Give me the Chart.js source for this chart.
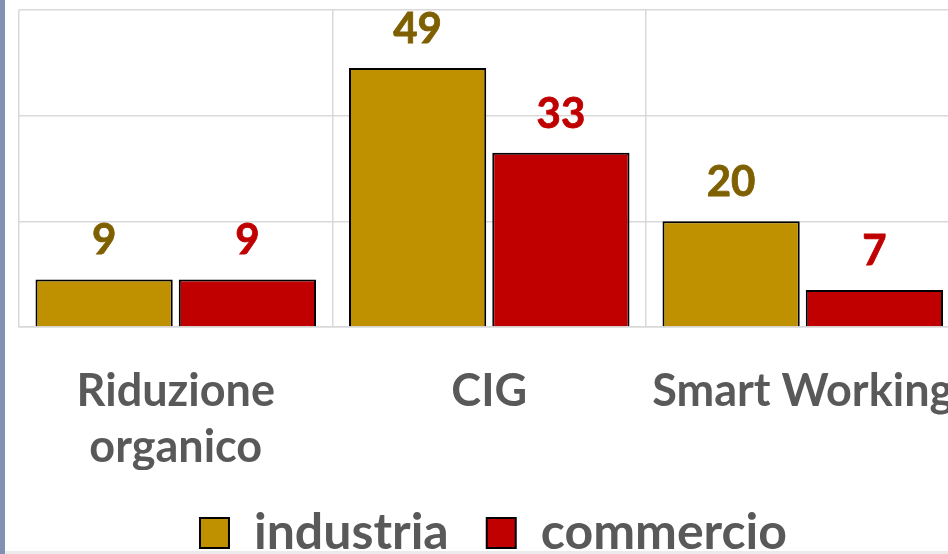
<!DOCTYPE html>
<html><head><meta charset="utf-8">
<script src="https://cdn.jsdelivr.net/npm/chart.js@4"></script>
<style>
html,body{margin:0;padding:0;width:948px;height:554px;overflow:hidden;background:#fff;}
#wrap{position:relative;width:948px;height:554px;overflow:hidden;background:#fff;}
#strip{position:absolute;left:0;top:0;width:5px;height:554px;background:#8291b3;z-index:2}
#bottomline{position:absolute;left:5px;bottom:0;width:943px;height:3px;background:#ebebeb;z-index:2}
#c{position:absolute;left:0;top:0;}
</style></head><body>
<div id="wrap"><div id="strip"></div><div id="bottomline"></div><canvas id="c" width="987" height="568"></canvas></div>
<script>
const categories = [['Riduzione','organico'], 'CIG', 'Smart Working'];
const seriesNames = ['industria', 'commercio'];
const industria = [9, 49, 20];
const commercio = [9, 33, 7];
const barColors = ['#BF9000', '#C00000'];
const labelColors = ['#7F6000', '#C00000'];
const yMin = 0, yMax = 60, yStep = 20;

const FONT = 'Lato';
const valueLabels = {
  id: 'valueLabels',
  afterDatasetsDraw(chart) {
    const ctx = chart.ctx;
    ctx.save();
    ctx.font = 'bold 42px ' + FONT;
    ctx.textAlign = 'center';
    ctx.textBaseline = 'alphabetic';
    chart.data.datasets.forEach((ds, i) => {
      const meta = chart.getDatasetMeta(i);
      ctx.fillStyle = labelColors[i];
      ctx.strokeStyle = labelColors[i];
      ctx.lineWidth = 0.8;
      meta.data.forEach((el, j) => {
        ctx.fillText(String(ds.data[j]), el.x, el.y - 25);
        ctx.strokeText(String(ds.data[j]), el.x, el.y - 25);
      });
    });
    ctx.restore();
  }
};

new Chart(document.getElementById('c'), {
  type: 'bar',
  data: {
    labels: categories,
    datasets: [
      { label: seriesNames[0], data: industria, backgroundColor: barColors[0], borderColor: '#000', borderWidth: 2,
        categoryPercentage: 0.914, barPercentage: 0.958, yAxisID: 'y' },
      { label: seriesNames[1], data: commercio, backgroundColor: barColors[1], borderColor: '#000', borderWidth: 2,
        categoryPercentage: 0.914, barPercentage: 0.958, yAxisID: 'y' }
    ]
  },
  options: {
    responsive: false,
    animation: false,
    layout: { padding: { left: 0, right: 0, top: 10, bottom: 0 } },
    plugins: {
      legend: {
        position: 'bottom',
        labels: {
          boxWidth: 29, boxHeight: 30, padding: 38,
          color: '#595959',
          font: { family: FONT, size: 50, weight: 'bold' }
        }
      },
      tooltip: { enabled: false }
    },
    scales: {
      x: {
        grid: { display: true, color: '#d9d9d9', lineWidth: 1.5, drawTicks: true, tickLength: 36,
          tickColor: 'rgba(0,0,0,0)', offset: true },
        border: { display: true, color: '#d9d9d9', width: 1.5 },
        ticks: { color: '#595959', padding: 0, maxRotation: 0, autoSkip: false,
          font: { family: FONT, size: 45, weight: 'bold', lineHeight: 1.25 } },
        afterFit(s) { s.height = 143; }
      },
      y: {
        position: 'left',
        min: yMin, max: yMax,
        ticks: { display: false, stepSize: yStep },
        grid: { color: '#d9d9d9', lineWidth: 1.5, drawTicks: false },
        border: { display: false },
        afterFit(s) { s.width = 19; }
      },
      yRight: {
        position: 'right',
        display: true,
        ticks: { display: false },
        grid: { display: false, drawTicks: false },
        border: { display: false },
        afterFit(s) { s.width = 27.5; }
      }
    }
  },
  plugins: [valueLabels]
});
</script>
</body></html>
